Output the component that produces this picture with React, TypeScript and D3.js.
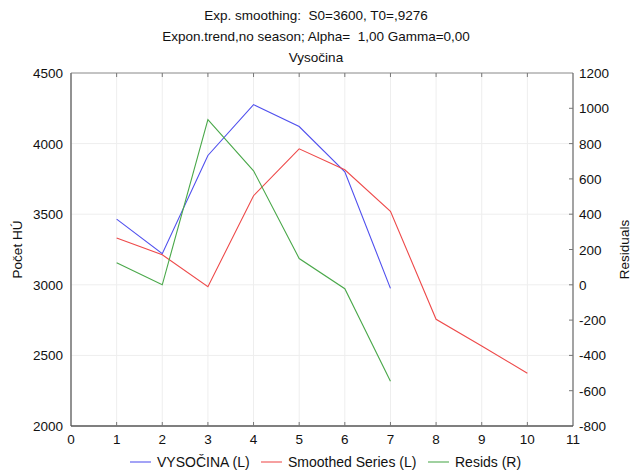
import React from "react";
import * as d3 from "d3";

// Observed series, exponentially smoothed series and residuals by period
const periods = [1, 2, 3, 4, 5, 6, 7];
const vysocina = [3465, 3220, 3916, 4276, 4121, 3800, 2975];
const smoothedPeriods = [1, 2, 3, 4, 5, 6, 7, 8, 9, 10];
const smoothed = [3332, 3213, 2986, 3631, 3963, 3815, 3521, 2756, 2567, 2374];
const resids = [125, 0, 936, 646, 149, -22, -547];

const xTicks = [0, 1, 2, 3, 4, 5, 6, 7, 8, 9, 10, 11];
const leftTicks = [2000, 2500, 3000, 3500, 4000, 4500];
const rightTicks = [-800, -600, -400, -200, 0, 200, 400, 600, 800, 1000, 1200];

const titleLines = [
  "Exp. smoothing:  S0=3600, T0=,9276",
  "Expon.trend,no season; Alpha=  1,00 Gamma=0,00",
  "Vysočina",
];

const legendItems = [
  { label: "VYSOČINA (L)", color: "#5050ee" },
  { label: "Smoothed Series (L)", color: "#ee4a4a" },
  { label: "Resids (R)", color: "#4aa84a" },
];

const W = 631;
const H = 475;
const plot = { left: 71, right: 573, top: 73, bottom: 426 };
const FONT = "'Liberation Sans', Arial, sans-serif";
const FS = 13.5;

export default function App() {
  const x = d3.scaleLinear().domain([0, 11]).range([plot.left, plot.right]);
  const yL = d3.scaleLinear().domain([2000, 4500]).range([plot.bottom, plot.top]);
  const yR = d3.scaleLinear().domain([-800, 1200]).range([plot.bottom, plot.top]);

  const lineL = d3
    .line<[number, number]>()
    .x((d) => x(d[0]))
    .y((d) => yL(d[1]));
  const lineR = d3
    .line<[number, number]>()
    .x((d) => x(d[0]))
    .y((d) => yR(d[1]));

  const obsPts = periods.map((p, i) => [p, vysocina[i]] as [number, number]);
  const smPts = smoothedPeriods.map((p, i) => [p, smoothed[i]] as [number, number]);
  const resPts = periods.map((p, i) => [p, resids[i]] as [number, number]);

  const legendX = [130, 261, 428];
  const legendY = 467;

  return (
    <svg
      width={W}
      height={H}
      style={{ position: "absolute", left: 0, top: 0, background: "#fff" }}
      fontFamily={FONT}
    >
      {titleLines.map((t, i) => (
        <text
          key={t}
          x={316}
          y={20 + i * 21}
          fontSize={FS}
          textAnchor="middle"
          fill="#111"
          style={{ whiteSpace: "pre" }}
        >
          {t}
        </text>
      ))}

      {/* grid */}
      <g stroke="#eeeeee" strokeWidth={1}>
        {xTicks.slice(1, -1).map((t) => (
          <line key={"gx" + t} x1={x(t)} x2={x(t)} y1={plot.top} y2={plot.bottom} />
        ))}
        {leftTicks.slice(1, -1).map((t) => (
          <line key={"gy" + t} x1={plot.left} x2={plot.right} y1={yL(t)} y2={yL(t)} />
        ))}
      </g>

      {/* series */}
      <path d={lineL(obsPts) ?? ""} fill="none" stroke={legendItems[0].color} strokeWidth={1.1} />
      <path d={lineL(smPts) ?? ""} fill="none" stroke={legendItems[1].color} strokeWidth={1.1} />
      <path d={lineR(resPts) ?? ""} fill="none" stroke={legendItems[2].color} strokeWidth={1.1} />

      {/* frame */}
      <line x1={plot.left} x2={plot.right} y1={plot.top} y2={plot.top} stroke="#888" strokeWidth={1} />
      <line x1={plot.right} x2={plot.right} y1={plot.top} y2={plot.bottom} stroke="#666" strokeWidth={1.2} />
      <line x1={plot.left} x2={plot.left} y1={plot.top} y2={plot.bottom} stroke="#777" strokeWidth={1.6} />
      <line x1={plot.left} x2={plot.right} y1={plot.bottom} y2={plot.bottom} stroke="#555" strokeWidth={1.6} />

      {/* ticks */}
      <g stroke="#777" strokeWidth={1}>
        {xTicks.slice(1, -1).map((t) => (
          <g key={"tx" + t}>
            <line x1={x(t)} x2={x(t)} y1={plot.bottom} y2={plot.bottom - 4} />
            <line x1={x(t)} x2={x(t)} y1={plot.top} y2={plot.top + 4} />
          </g>
        ))}
        {rightTicks.slice(1, -1).map((t) => (
          <line key={"tr" + t} x1={plot.right} x2={plot.right - 4} y1={yR(t)} y2={yR(t)} />
        ))}
      </g>

      {/* tick labels */}
      <g fontSize={FS} fill="#111">
        {xTicks.map((t) => (
          <text key={"lx" + t} x={x(t)} y={plot.bottom + 18} textAnchor="middle">
            {t}
          </text>
        ))}
        {leftTicks.map((t) => (
          <text key={"ll" + t} x={plot.left - 8} y={yL(t) + 5} textAnchor="end">
            {t}
          </text>
        ))}
        {rightTicks.map((t) => (
          <text key={"lr" + t} x={plot.right + 6} y={yR(t) + 5} textAnchor="start">
            {t}
          </text>
        ))}
      </g>

      {/* axis titles */}
      <text
        transform={`translate(22,${(plot.top + plot.bottom) / 2}) rotate(-90)`}
        fontSize={FS}
        textAnchor="middle"
        fill="#111"
      >
        Počet HÚ
      </text>
      <text
        transform={`translate(629,${(plot.top + plot.bottom) / 2}) rotate(-90)`}
        fontSize={FS}
        textAnchor="middle"
        fill="#111"
      >
        Residuals
      </text>

      {/* legend */}
      {legendItems.map((item, i) => (
        <g key={item.label}>
          <line
            x1={legendX[i]}
            x2={legendX[i] + 21}
            y1={legendY - 5}
            y2={legendY - 5}
            stroke={item.color}
            strokeOpacity={0.7}
            strokeWidth={1.5}
          />
          <text x={legendX[i] + 27} y={legendY} fontSize={14} fill="#111">
            {item.label}
          </text>
        </g>
      ))}
    </svg>
  );
}
